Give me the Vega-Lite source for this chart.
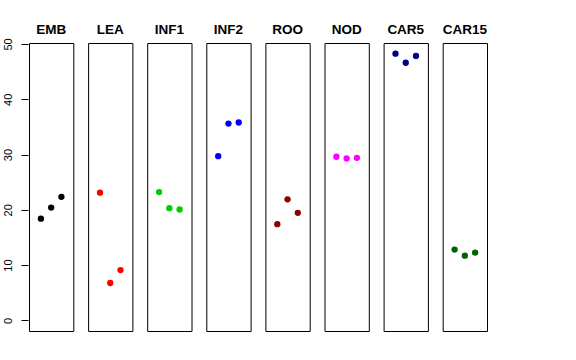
{
  "$schema": "https://vega.github.io/schema/vega-lite/v6.json",
  "background": "white",
  "padding": {"left": 1, "top": 22, "right": 5, "bottom": 5},
  "config": {
    "font": "Liberation Sans",
    "view": {"stroke": "black", "strokeWidth": 1},
    "axis": {"labelFont": "Liberation Sans", "labelColor": "black", "tickColor": "black", "domainColor": "black"}
  },
  "data": {"values": [
    {"tissue": "EMB", "rep": 1, "value": 18.4},
    {"tissue": "EMB", "rep": 2, "value": 20.4},
    {"tissue": "EMB", "rep": 3, "value": 22.35},
    {"tissue": "LEA", "rep": 1, "value": 23.1},
    {"tissue": "LEA", "rep": 2, "value": 6.75},
    {"tissue": "LEA", "rep": 3, "value": 9.1},
    {"tissue": "INF1", "rep": 1, "value": 23.2},
    {"tissue": "INF1", "rep": 2, "value": 20.3},
    {"tissue": "INF1", "rep": 3, "value": 20.05},
    {"tissue": "INF2", "rep": 1, "value": 29.7},
    {"tissue": "INF2", "rep": 2, "value": 35.6},
    {"tissue": "INF2", "rep": 3, "value": 35.8},
    {"tissue": "ROO", "rep": 1, "value": 17.4},
    {"tissue": "ROO", "rep": 2, "value": 21.9},
    {"tissue": "ROO", "rep": 3, "value": 19.45},
    {"tissue": "NOD", "rep": 1, "value": 29.6},
    {"tissue": "NOD", "rep": 2, "value": 29.3},
    {"tissue": "NOD", "rep": 3, "value": 29.4},
    {"tissue": "CAR5", "rep": 1, "value": 48.25},
    {"tissue": "CAR5", "rep": 2, "value": 46.6},
    {"tissue": "CAR5", "rep": 3, "value": 47.85},
    {"tissue": "CAR15", "rep": 1, "value": 12.8},
    {"tissue": "CAR15", "rep": 2, "value": 11.7},
    {"tissue": "CAR15", "rep": 3, "value": 12.25}
  ]},
  "facet": {
    "column": {
      "field": "tissue",
      "type": "nominal",
      "sort": ["EMB", "LEA", "INF1", "INF2", "ROO", "NOD", "CAR5", "CAR15"],
      "header": {"title": null, "labelFontWeight": "bold", "labelFontSize": 13.5, "labelFont": "Liberation Sans", "labelColor": "black", "labelPadding": 6}
    }
  },
  "spacing": 13.1,
  "spec": {
    "width": 44.3,
    "height": 288,
    "mark": {"type": "circle", "size": 40, "opacity": 1},
    "encoding": {
      "x": {"field": "rep", "type": "quantitative", "scale": {"domain": [-0.16, 4.16], "nice": false, "zero": false}, "axis": null},
      "y": {"field": "value", "type": "quantitative", "scale": {"domain": [-1.93, 50.18], "nice": false, "zero": false},
        "axis": {"title": null, "values": [0, 10, 20, 30, 40, 50], "grid": false, "labelAngle": -90, "labelFontSize": 11, "tickSize": 7, "labelPadding": 8, "domain": false}},
      "color": {"field": "tissue", "type": "nominal", "legend": null,
        "scale": {"domain": ["EMB", "LEA", "INF1", "INF2", "ROO", "NOD", "CAR5", "CAR15"],
          "range": ["#000000", "#FF0000", "#00CD00", "#0000FF", "#8B0000", "#FF00FF", "#000080", "#006400"]}}
    }
  }
}
